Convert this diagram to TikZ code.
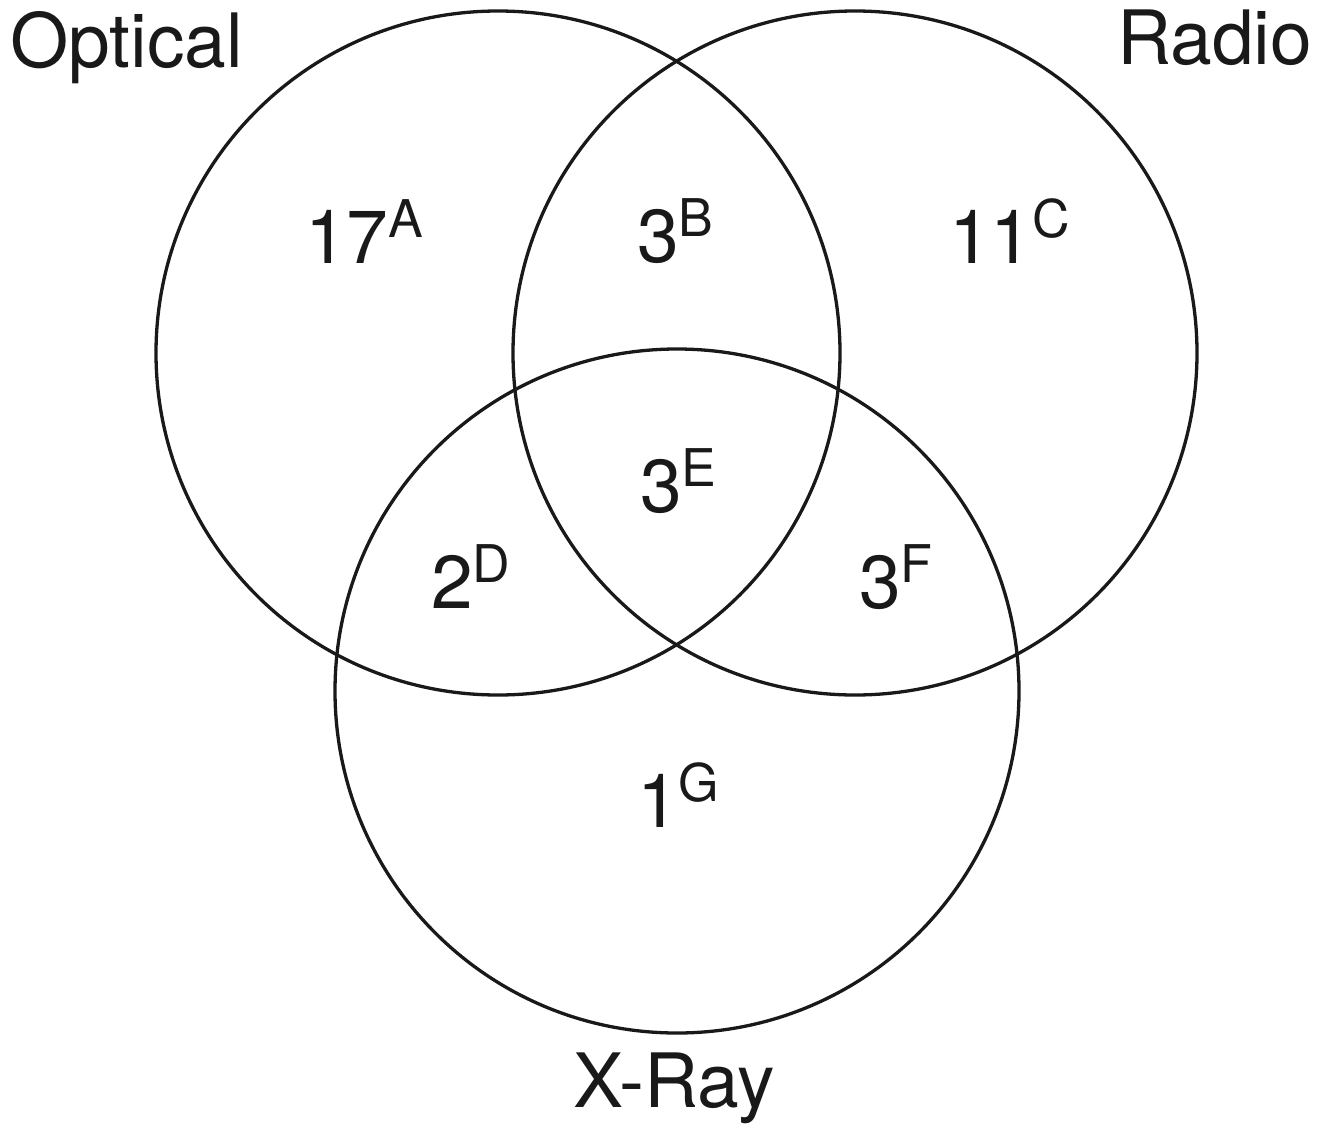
\documentclass[tikz,border=0pt]{standalone}
\usepackage{fontspec}
\setmainfont{TeX Gyre Heros}
\newcommand{\supx}[1]{{\fontsize{52}{52}\selectfont\raisebox{26pt}{#1}}}
\begin{document}
\begin{tikzpicture}[x=1pt,y=-1pt,
  setcircle/.style={circle, draw=black!90, line width=3.3pt, minimum size=684pt, inner sep=0pt},
  lbl/.style={anchor=base west, inner sep=0pt, font=\fontsize{75}{75}\selectfont, text=black!90}]
\useasboundingbox (0,0) rectangle (1328,1132);
\node[setcircle] (optical) at (498,353) {};
\node[setcircle] (radio) at (855,353) {};
\node[setcircle] (xray) at (677,691) {};
\node[lbl] (tOptical) at (10,67) {Optical};
\node[lbl] (tRadio) at (1117,65) {Radio};
\node[lbl] (tXray) at (573,1107) {X-Ray};
\node[lbl] (a) at (305,263) {17\supx{A}};
\node[lbl] (b) at (637,262) {3\supx{B}};
\node[lbl] (c) at (949,263) {11\supx{C}};
\node[lbl] (e) at (640,512) {3\supx{E}};
\node[lbl] (d) at (431,608) {2\supx{D}};
\node[lbl] (f) at (859,608) {3\supx{F}};
\node[lbl] (g) at (637,827) {1\supx{G}};
\end{tikzpicture}
\end{document}
